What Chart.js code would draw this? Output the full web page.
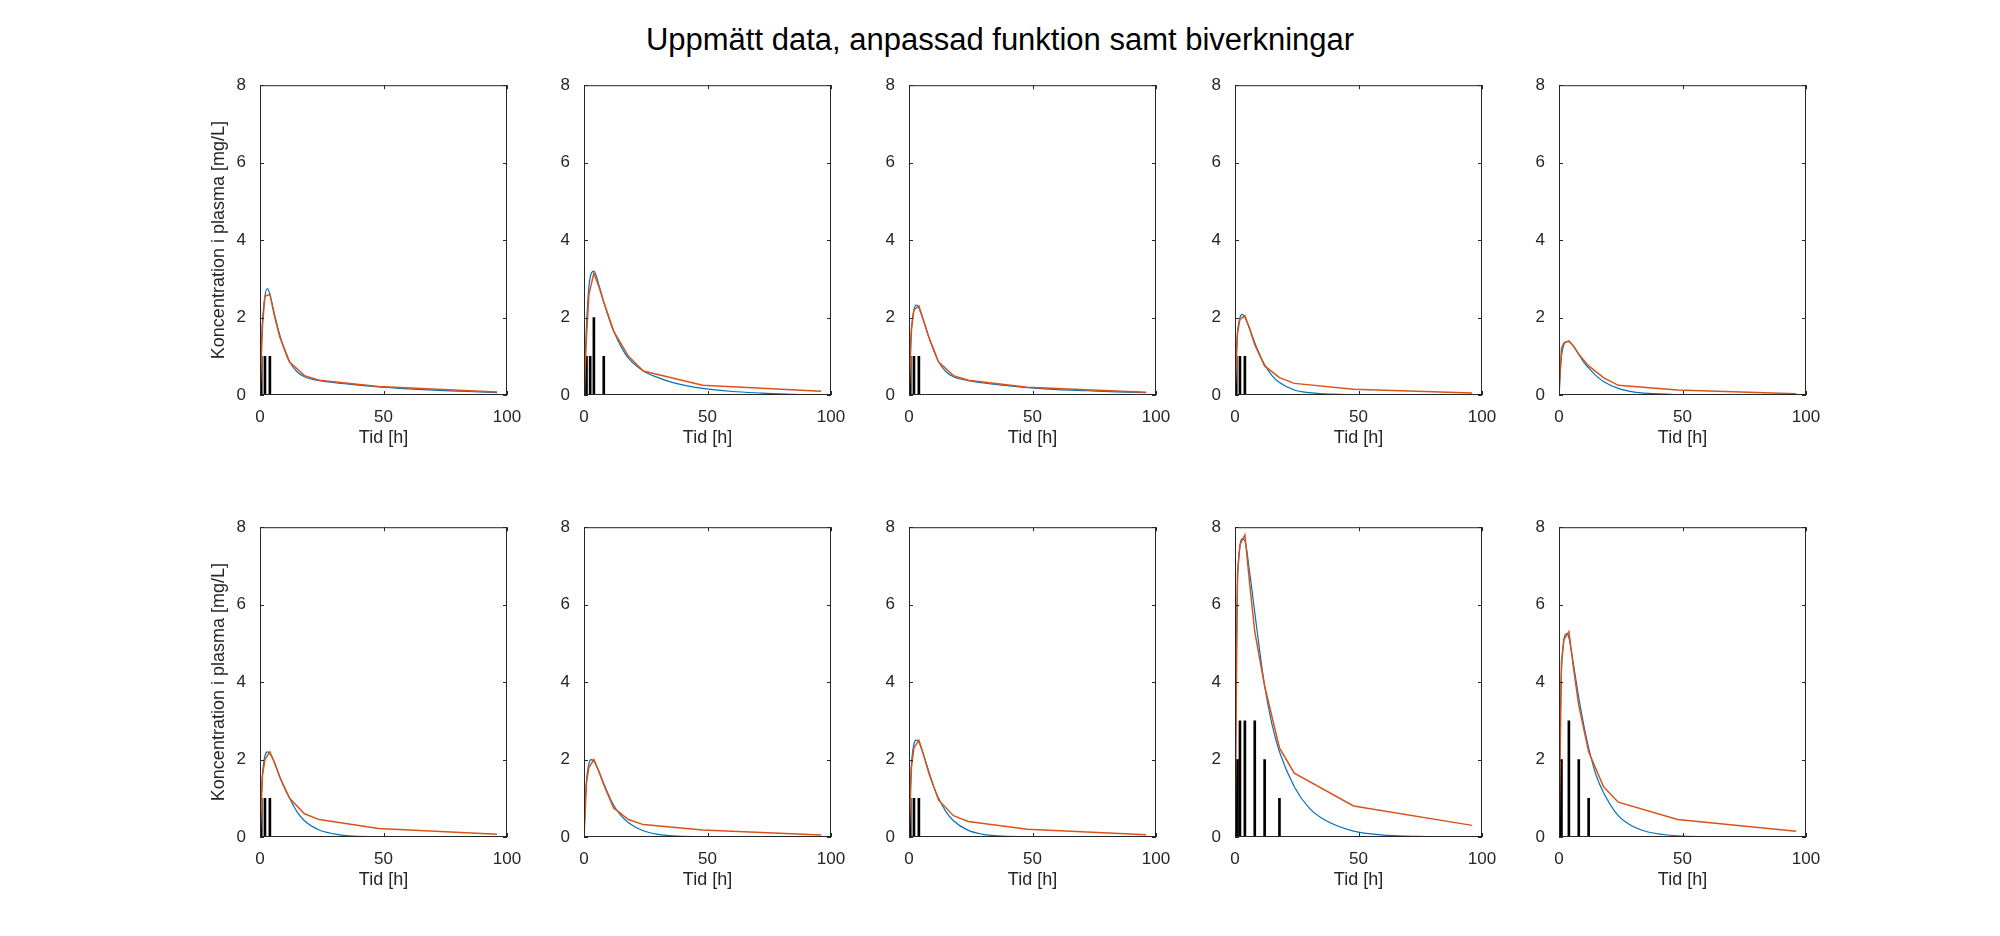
<!DOCTYPE html>
<html>
<head>
<meta charset="utf-8">
<script src="https://cdn.jsdelivr.net/npm/chart.js@4.4.1/dist/chart.umd.min.js"></script>
<style>
  body { margin: 0; background: #fff; width: 2000px; height: 936px; position: relative; overflow: hidden; font-family: "Liberation Sans", Arial, sans-serif; }
  #title { position: absolute; top: 22px; left: 0; width: 2000px; text-align: center; font-size: 31px; color: #000; }
  canvas { position: absolute; }
</style>
</head>
<body>
<div id="title">Uppmätt data, anpassad funktion samt biverkningar</div>
<script>
// measured sample times and the fitted curve's evaluation times
const measTimes = [0, 1, 2, 4, 6, 8, 12, 18, 24, 48, 96];
const fitTimes = [0, 0.5, 1, 2, 3, 4, 6, 8, 10, 12, 15, 18, 24, 30, 36, 48, 60, 72, 84, 96];

const measured = [
  [0, 1.8, 2.55, 2.6, 2.0, 1.5, 0.85, 0.5, 0.38, 0.22, 0.08],
  [0, 1.5, 2.6, 3.15, 2.8, 2.4, 1.65, 1.0, 0.62, 0.25, 0.1],
  [0, 1.7, 2.2, 2.3, 1.9, 1.5, 0.85, 0.5, 0.38, 0.2, 0.07],
  [0, 1.6, 1.95, 2.05, 1.7, 1.3, 0.75, 0.45, 0.3, 0.15, 0.05],
  [0, 1.2, 1.35, 1.4, 1.25, 1.05, 0.75, 0.45, 0.25, 0.13, 0.03],
  [0, 1.6, 2.0, 2.2, 1.9, 1.55, 1.0, 0.6, 0.45, 0.22, 0.07],
  [0, 1.4, 1.8, 2.0, 1.7, 1.35, 0.75, 0.45, 0.32, 0.18, 0.05],
  [0, 1.8, 2.3, 2.5, 2.1, 1.65, 0.95, 0.55, 0.4, 0.2, 0.06],
  [0, 6.8, 7.55, 7.8, 6.5, 5.3, 3.9, 2.3, 1.65, 0.8, 0.3],
  [0, 4.5, 5.1, 5.3, 4.3, 3.4, 2.2, 1.3, 0.9, 0.45, 0.15]
];

const fitted = [
  [0, 1.2, 1.9, 2.55, 2.75, 2.6, 2.05, 1.55, 1.15, 0.85, 0.6, 0.47, 0.37, 0.32, 0.28, 0.21, 0.16, 0.12, 0.09, 0.06],
  [0, 1.0, 1.8, 2.8, 3.15, 3.2, 2.85, 2.4, 2.0, 1.65, 1.25, 0.95, 0.62, 0.45, 0.32, 0.17, 0.09, 0.05, 0.02, 0.01],
  [0, 1.1, 1.7, 2.2, 2.32, 2.25, 1.9, 1.5, 1.15, 0.85, 0.6, 0.47, 0.37, 0.31, 0.27, 0.19, 0.14, 0.11, 0.08, 0.06],
  [0, 1.0, 1.6, 2.0, 2.08, 2.0, 1.7, 1.35, 1.05, 0.78, 0.5, 0.32, 0.13, 0.06, 0.03, 0.01, 0, 0, 0, 0],
  [0, 0.6, 1.0, 1.3, 1.38, 1.38, 1.25, 1.05, 0.85, 0.7, 0.5, 0.35, 0.17, 0.08, 0.04, 0.01, 0, 0, 0, 0],
  [0, 1.0, 1.6, 2.1, 2.2, 2.15, 1.9, 1.55, 1.25, 1.0, 0.65, 0.42, 0.18, 0.08, 0.03, 0.01, 0, 0, 0, 0],
  [0, 0.9, 1.45, 1.9, 2.0, 1.95, 1.7, 1.38, 1.08, 0.82, 0.55, 0.37, 0.16, 0.07, 0.03, 0.01, 0, 0, 0, 0],
  [0, 1.2, 1.9, 2.4, 2.5, 2.45, 2.1, 1.7, 1.3, 1.0, 0.65, 0.42, 0.17, 0.07, 0.03, 0.01, 0, 0, 0, 0],
  [0, 4.5, 6.5, 7.5, 7.7, 7.65, 6.8, 5.8, 4.8, 3.9, 2.9, 2.2, 1.3, 0.75, 0.45, 0.15, 0.05, 0.02, 0, 0],
  [0, 3.0, 4.3, 5.1, 5.25, 5.15, 4.4, 3.6, 2.9, 2.3, 1.6, 1.15, 0.55, 0.27, 0.13, 0.03, 0.01, 0, 0, 0]
];

// side effects: [time, intensity]
const sideEffects = [
  [[0.5, 1], [2, 1], [4, 1]],
  [[1, 1], [2.5, 1], [4, 2], [8, 1]],
  [[0.5, 1], [2, 1], [4, 1]],
  [[0.5, 1], [2, 1], [4, 1]],
  [],
  [[0.5, 1], [2, 1], [4, 1]],
  [],
  [[0.5, 1], [2, 1], [4, 1]],
  [[0, 1], [0.5, 2], [1, 2], [2, 3], [4, 3], [8, 3], [12, 2], [18, 1]],
  [[0.5, 2], [1, 2], [4, 3], [8, 2], [12, 1]]
];

const xTicks = [0, 50, 100];
const yTicks = [0, 2, 4, 6, 8];

const colLeft = [260, 584, 909, 1235, 1559];
const rowTop = [83, 525];
const plotW = 247, plotH = 312;
const padL = 56, padR = 20, padT = 14, padB = 58;

const boxPlugin = {
  id: 'box',
  afterDraw(chart) {
    const { ctx, chartArea: a, scales } = chart;
    ctx.save();
    ctx.strokeStyle = '#262626';
    ctx.lineWidth = 1;
    ctx.strokeRect(a.left + 0.5, a.top + 0.5, a.width - 1, a.height - 1);
    ctx.beginPath();
    xTicks.forEach(v => {
      const px = Math.round(scales.x.getPixelForValue(v)) + 0.5;
      ctx.moveTo(px, a.bottom); ctx.lineTo(px, a.bottom - 4);
      ctx.moveTo(px, a.top); ctx.lineTo(px, a.top + 4);
    });
    yTicks.forEach(v => {
      const py = Math.round(scales.y.getPixelForValue(v)) + 0.5;
      ctx.moveTo(a.left, py); ctx.lineTo(a.left + 4, py);
      ctx.moveTo(a.right, py); ctx.lineTo(a.right - 4, py);
    });
    ctx.stroke();
    ctx.restore();
  }
};

const tickFont = { family: '"Liberation Sans", Arial, sans-serif', size: 17 };

for (let i = 0; i < 10; i++) {
  const col = i % 5, row = Math.floor(i / 5);
  const cv = document.createElement('canvas');
  const w = plotW + padL + padR, h = plotH + padT + padB;
  cv.width = w; cv.height = h;
  cv.style.left = (colLeft[col] - padL) + 'px';
  cv.style.top = (rowTop[row] - padT) + 'px';
  cv.style.width = w + 'px'; cv.style.height = h + 'px';
  document.body.appendChild(cv);

  new Chart(cv.getContext('2d'), {
    data: {
      datasets: [
        {
          type: 'bar',
          data: sideEffects[i].map(p => ({ x: p[0], y: p[1] })),
          backgroundColor: '#000',
          barThickness: 2,
          order: 3
        },
        {
          type: 'line',
          data: fitTimes.map((t, k) => ({ x: t, y: fitted[i][k] })),
          borderColor: '#0072BD',
          borderWidth: 1.2,
          pointRadius: 0,
          cubicInterpolationMode: 'monotone',
          order: 2
        },
        {
          type: 'line',
          data: measTimes.map((t, k) => ({ x: t, y: measured[i][k] })),
          borderColor: '#D95319',
          borderWidth: 1.5,
          pointRadius: 0,
          tension: 0,
          order: 1
        }
      ]
    },
    options: {
      responsive: false,
      animation: false,
      devicePixelRatio: 1,
      layout: { padding: { top: padT, right: padR, left: 0, bottom: 0 } },
      plugins: { legend: { display: false }, tooltip: { enabled: false } },
      scales: {
        x: {
          type: 'linear', min: 0, max: 100, offset: false,
          afterBuildTicks: s => { s.ticks = xTicks.map(v => ({ value: v })); },
          afterFit: s => { s.height = padB; },
          grid: { display: false, offset: false },
          border: { display: false },
          ticks: { color: '#262626', font: tickFont, padding: 4, maxRotation: 0 },
          title: { display: true, text: 'Tid [h]', color: '#262626', font: { ...tickFont, size: 18 }, padding: { top: 2 } }
        },
        y: {
          type: 'linear', min: 0, max: 8,
          afterBuildTicks: s => { s.ticks = yTicks.map(v => ({ value: v })); },
          afterFit: s => { s.width = padL; },
          grid: { display: false },
          border: { display: false },
          ticks: { color: '#262626', font: tickFont, padding: 6 },
          title: { display: col === 0, text: 'Koncentration i plasma [mg/L]', color: '#262626', font: { ...tickFont, size: 18 }, padding: { bottom: 0 } }
        }
      }
    },
    plugins: [boxPlugin]
  });
}
</script>
</body>
</html>
